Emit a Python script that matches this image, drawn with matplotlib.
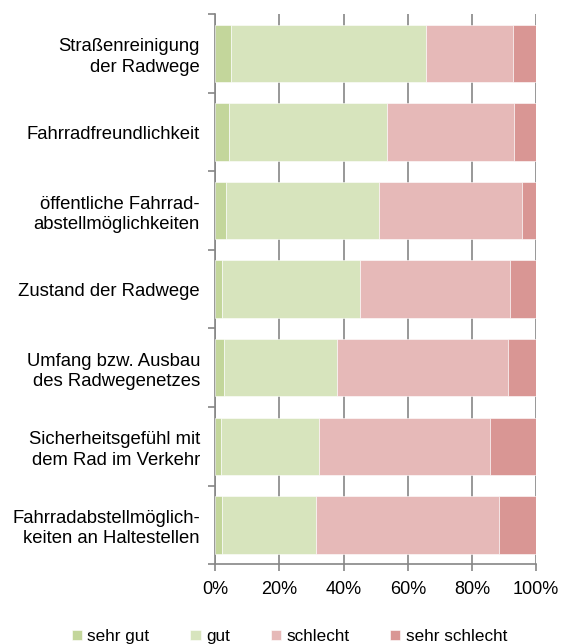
import matplotlib.pyplot as plt
import numpy as np

plt.rcParams['font.family'] = ['Liberation Sans', 'DejaVu Sans']

categories = [
    'Straßenreinigung\nder Radwege',
    'Fahrradfreundlichkeit',
    'öffentliche Fahrrad-\nabstellmöglichkeiten',
    'Zustand der Radwege',
    'Umfang bzw. Ausbau\ndes Radwegenetzes',
    'Sicherheitsgefühl mit\ndem Rad im Verkehr',
    'Fahrradabstellmöglich-\nkeiten an Haltestellen',
]
sehr_gut = [5.0, 4.3, 3.3, 2.1, 2.7, 1.8, 2.0]
gut = [60.8, 49.2, 47.8, 43.0, 35.1, 30.5, 29.3]
schlecht = [27.1, 39.6, 44.4, 46.9, 53.3, 53.2, 57.1]
sehr_schlecht = [7.1, 6.9, 4.5, 8.0, 8.9, 14.5, 11.6]

series = [('sehr gut', sehr_gut, '#C3D69B'),
          ('gut', gut, '#D7E4BD'),
          ('schlecht', schlecht, '#E6B9B8'),
          ('sehr schlecht', sehr_schlecht, '#D99694')]

fig = plt.figure(figsize=(5.62, 6.44), dpi=100)
ax = fig.add_axes([0.383, 0.124, 0.571, 0.854])

y = np.arange(len(categories))
left = np.zeros(len(categories))
for name, vals, col in series:
    vals = np.array(vals)
    ax.barh(y, vals, left=left, height=0.73, color=col, label=name,
            edgecolor='white', linewidth=0.4, zorder=3)
    left += vals

ax.set_xlim(0, 100)
ax.set_ylim(len(categories) - 0.5, -0.5)
ax.set_xticks(np.arange(0, 101, 20))
ax.set_xticklabels(['%d%%' % v for v in range(0, 101, 20)], fontsize=13)
ax.xaxis.grid(True, color='#868686', linewidth=1.2, zorder=0)

ax.set_yticks(y)
ax.set_yticklabels(categories, fontsize=13.3, linespacing=1.25)
ax.tick_params(axis='y', length=0, pad=11)
ax.set_yticks(np.arange(-0.5, len(categories)), minor=True)
ax.tick_params(axis='y', which='minor', length=5, color='#868686', width=1.2)
ax.tick_params(axis='x', length=5, color='#868686', width=1.2, pad=7)

for s in ['top', 'right']:
    ax.spines[s].set_visible(False)
for s in ['left', 'bottom']:
    ax.spines[s].set_color('#868686')
    ax.spines[s].set_linewidth(1.2)

leg = fig.legend(loc='lower center', bbox_to_anchor=(0.515, -0.024), ncol=4,
                 frameon=False, fontsize=12.3, handlelength=0.6,
                 handleheight=0.6, handletextpad=0.3, columnspacing=2.4)

fig.savefig('out.png', dpi=100)
